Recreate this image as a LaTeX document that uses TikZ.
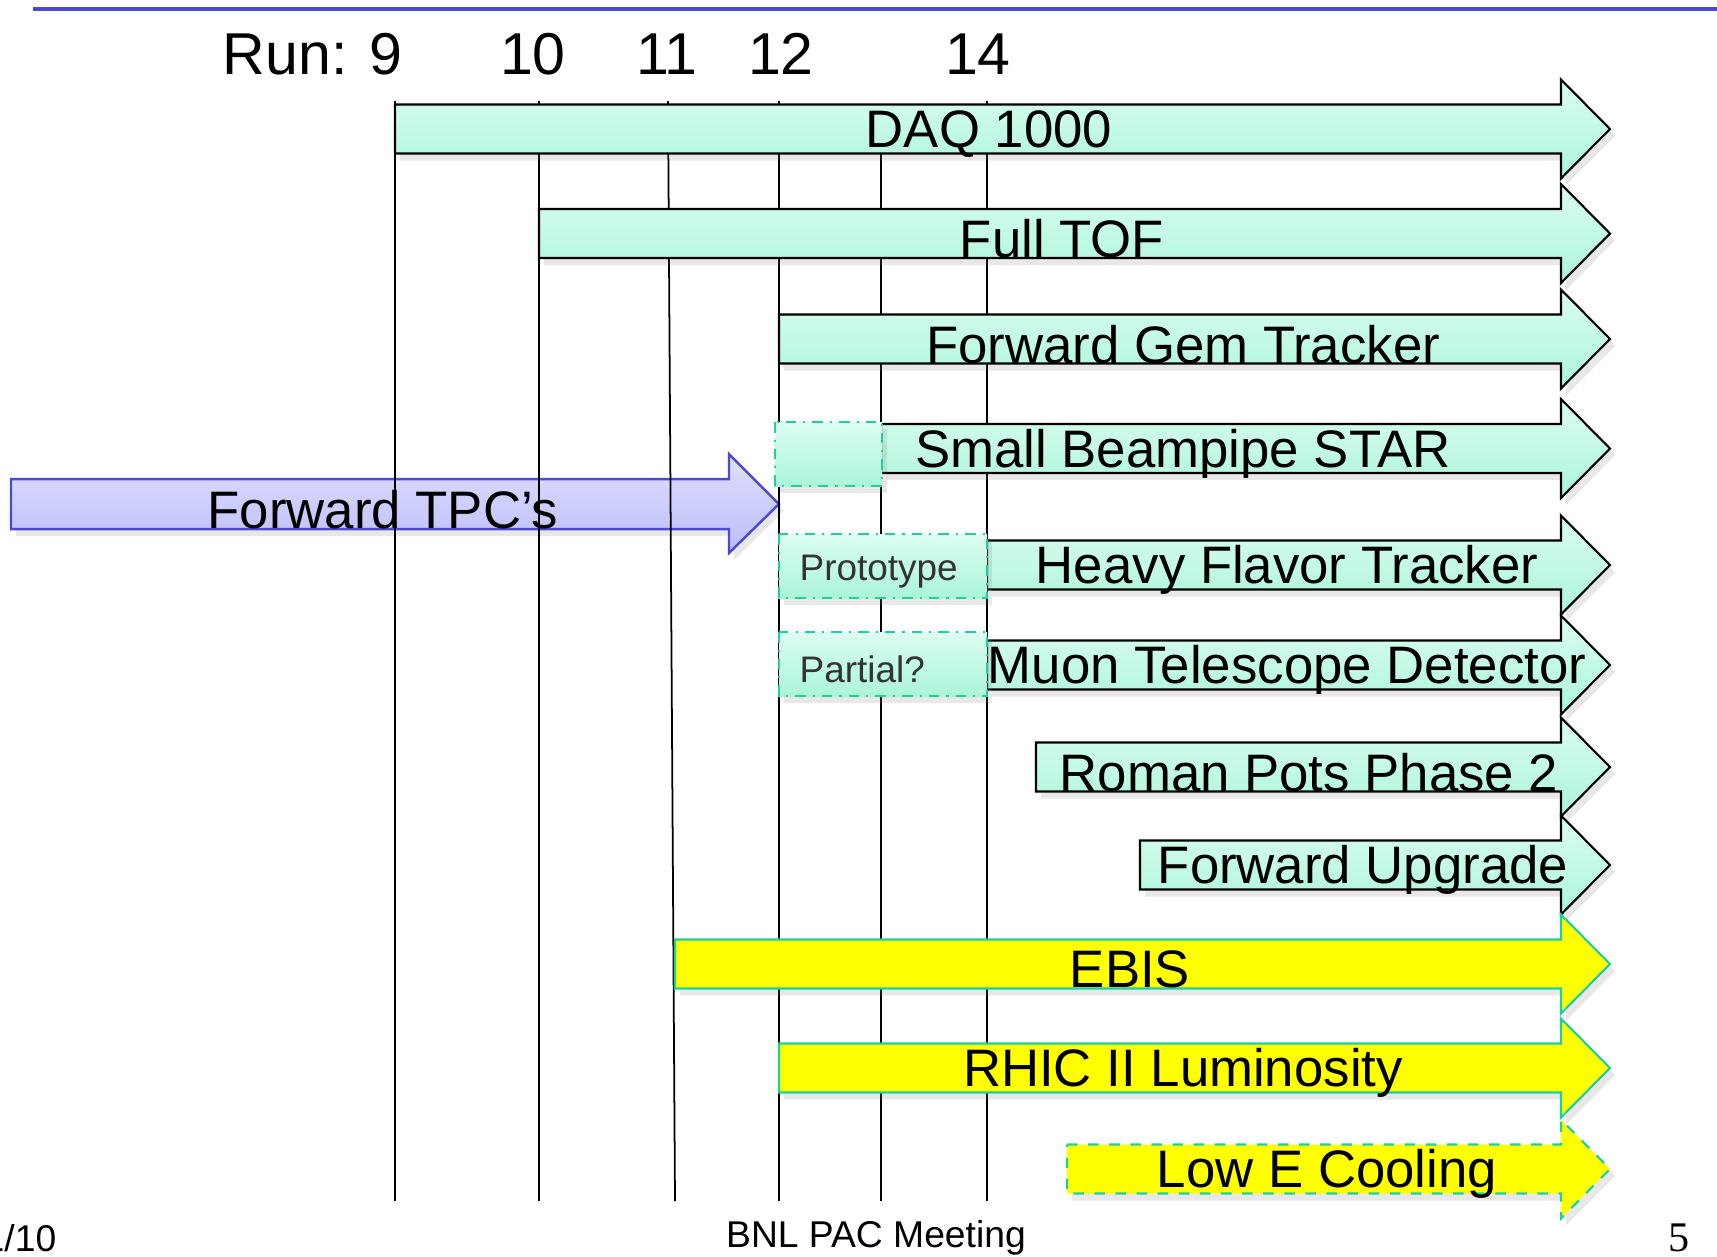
\documentclass[tikz,border=0pt]{standalone}
\usepackage{fontspec}
\setmainfont{Liberation Sans}
\newfontfamily\pageserif{Liberation Serif}
\usetikzlibrary{shadows}
\definecolor{tlMintTop}{HTML}{DCFDF1}
\definecolor{tlMintBot}{HTML}{ABF5D9}
\definecolor{tlBlueTop}{HTML}{E0E0FF}
\definecolor{tlBlueBot}{HTML}{BCBCF8}
\definecolor{tlBlueLine}{HTML}{4A4AD4}
\definecolor{tlTeal}{HTML}{1ECFA0}
\definecolor{tlYellow}{HTML}{FFFF00}
\definecolor{tlInk}{HTML}{333333}
% one timeline arrow: #1 start x, #2 centre y
\newcommand{\tlbar}[2]{(#1,#2-24.5) -- (1561,#2-24.5) -- (1561,#2-49.5)
  -- (1610,#2) -- (1561,#2+49.5) -- (1561,#2+24.5) -- (#1,#2+24.5) -- cycle}
\tikzset{
  % shadow of the arrows
  soft/.style={drop shadow={opacity=0.18,shadow xshift=0.5mm,shadow yshift=-0.7mm}},
  % green detector arrow
  garrow/.style={soft,draw=black,line width=0.6pt,
    top color=tlMintTop,bottom color=tlMintBot},
  % yellow machine arrow
  yarrow/.style={soft,draw=tlTeal,line width=0.6pt,fill=tlYellow},
  % blue arrow
  barrow/.style={soft,draw=tlBlueLine,line width=0.7pt,
    top color=tlBlueTop,bottom color=tlBlueBot},
  % dash-dot box
  pbox/.style={soft,draw=tlTeal,line width=0.6pt,dash dot,
    top color=tlMintTop,bottom color=tlMintBot},
  % run grid
  vline/.style={black,line width=0.5pt},
  lbl/.style={font=\fontsize{15}{18}\selectfont,inner sep=0pt,yshift=-1.5pt},
  runlbl/.style={font=\fontsize{16.8}{20}\selectfont,inner sep=0pt,anchor=base},
  boxlbl/.style={font=\fontsize{10.5}{13}\selectfont,text=tlInk,inner sep=0pt,
    anchor=west,yshift=-1.5pt},
  foot/.style={font=\fontsize{10.6}{13}\selectfont,inner sep=0pt},
}
\begin{document}
\begin{tikzpicture}[x=0.01cm,y=-0.01cm]
  \useasboundingbox (0,0) rectangle (1717,1256);
  \draw[tlBlueLine,line width=1.2pt] (33,9) -- (1717,9);

  % run numbers
  \node[runlbl,anchor=base east] (run9) at (403,74) {Run: 9};
  \node[runlbl] (run10) at (533,74) {10};
  \node[runlbl] (run11) at (667,74) {11};
  \node[runlbl] (run12) at (781,74) {12};
  \node[runlbl] (run14) at (978,74) {14};

  % forward TPC (grid lies over it)
  \path[barrow] (11,479) -- (729,479) -- (729,454) -- (779,504)
    -- (729,553) -- (729,529) -- (11,529) -- cycle;
  \node[lbl] (ftpc) at (383,504) {Forward TPC’s};

  \draw[vline] (395,101) -- (395,1201);
  \draw[vline] (539,101) -- (539,1201);
  \draw[vline] (668,101) -- (675,1201);
  \draw[vline] (779,101) -- (779,1201);
  \draw[vline] (881,153) -- (881,1201);
  \draw[vline] (987,101) -- (987,1201);

  % detector upgrades
  \path[garrow] \tlbar{395}{129};
  \node[lbl] (daq) at (989,129) {DAQ 1000};
  \path[garrow] \tlbar{539}{233.5};
  \node[lbl] (tof) at (1062,233.5) {Full TOF};
  \path[garrow] \tlbar{779}{339};
  \node[lbl] (fgt) at (1183,339) {Forward Gem Tracker};
  \path[garrow] \tlbar{881}{448.5};
  \path[pbox] (775,422) rectangle (882,486);
  \node[lbl] (pipe) at (1183,448.5) {Small Beampipe STAR};
  \path[garrow] \tlbar{987}{565};
  \path[pbox] (779,534) rectangle (987,598);
  \node[boxlbl] (proto) at (799,566) {Prototype};
  \node[lbl] (hft) at (1287,565) {Heavy Flavor Tracker};
  \path[garrow] \tlbar{987}{665};
  \path[pbox] (779,632) rectangle (987,696);
  \node[boxlbl] (part) at (799,664) {Partial?};
  \node[lbl] (mtd) at (1287,665) {Muon Telescope Detector};
  \path[garrow] \tlbar{1036}{767};
  \node[lbl] (rp) at (1309,767) {Roman Pots Phase 2};
  \path[garrow] \tlbar{1140}{865};
  \node[lbl] (fwd) at (1363,865) {Forward Upgrade};

  % collider
  \path[yarrow] \tlbar{675}{964};
  \node[lbl] (ebis) at (1130,964) {EBIS};
  \path[yarrow] \tlbar{779}{1068};
  \node[lbl] (rhic) at (1183,1068) {RHIC II Luminosity};
  \path[yarrow,dashed] \tlbar{1067}{1169};
  \node[lbl] (cool) at (1327,1169) {Low E Cooling};

  % page footer
  \node[foot,anchor=east] (date) at (57,1238) {1/10};
  \node[foot] (meet) at (876,1238) {BNL PAC Meeting};
  \node[foot,font=\pageserif\fontsize{12}{14}\selectfont] (page) at (1679,1238) {5};
\end{tikzpicture}
\end{document}
